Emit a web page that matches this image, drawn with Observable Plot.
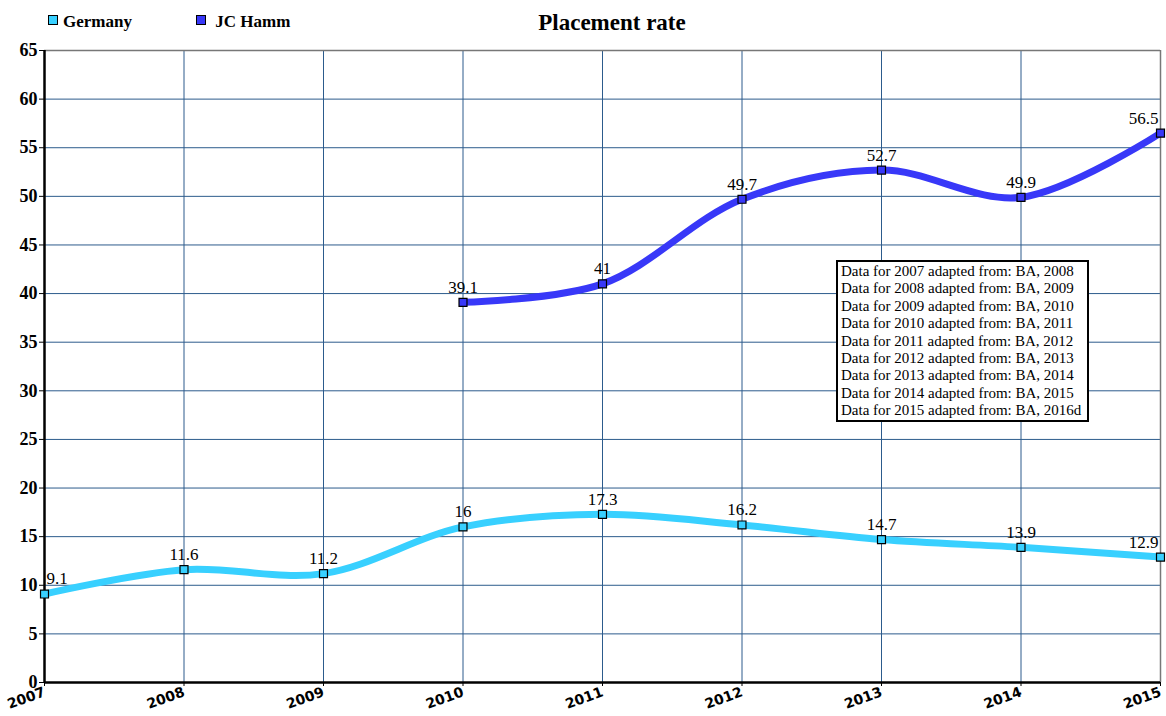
<!DOCTYPE html>
<html>
<head>
<meta charset="utf-8">
<script src="https://cdn.jsdelivr.net/npm/d3@7"></script>
<script src="https://cdn.jsdelivr.net/npm/@observablehq/plot@0.6"></script>
<style>
  html, body { margin: 0; padding: 0; background: #fff; }
  #wrap { position: relative; width: 1166px; height: 716px; }
  #title { position: absolute; left: 0; width: 1224px; top: 10px; text-align: center;
    font: bold 23px "Liberation Serif", serif; color: #000; }
  .leg { position: absolute; top: 12px; font: bold 17px "Liberation Serif", serif; color: #000; }
  .sw { display: inline-block; width: 8px; height: 8px; border: 1px solid #000; margin-right: 5px; vertical-align: 2px; }
  #note { position: absolute; left: 836px; top: 260px; width: 253px; height: 162px; border: 2px solid #000;
    background: #fff; font: 15px "Liberation Serif", serif; line-height: 17.4px; padding: 1px 0 1px 3px; box-sizing: border-box; color: #000; white-space: nowrap; overflow: hidden; }
</style>
</head>
<body>
<div id="wrap">
  <div id="title">Placement rate</div>
  <div class="leg" style="left:48px"><span class="sw" style="background:#38d0ff"></span>Germany</div>
  <div class="leg" style="left:196px"><span class="sw" style="background:#3838f8"></span> JC Hamm</div>
  <div id="chart"></div>
  <div id="note"></div>
</div>
<script>
const years = [2007, 2008, 2009, 2010, 2011, 2012, 2013, 2014, 2015];
const germany = [9.1, 11.6, 11.2, 16, 17.3, 16.2, 14.7, 13.9, 12.9];
const hammYears = [2010, 2011, 2012, 2013, 2014, 2015];
const hamm = [39.1, 41, 49.7, 52.7, 49.9, 56.5];
const yTicks = [0, 5, 10, 15, 20, 25, 30, 35, 40, 45, 50, 55, 60, 65];
const sources = ["BA, 2008", "BA, 2009", "BA, 2010", "BA, 2011", "BA, 2012", "BA, 2013", "BA, 2014", "BA, 2015", "BA, 2016d"];

const serif = "Liberation Serif";
const colG = "#38d0ff", colH = "#3838f8";
const dataG = years.map((y, i) => ({year: y, value: germany[i]}));
const dataH = hammYears.map((y, i) => ({year: y, value: hamm[i]}));
const allPts = dataG.concat(dataH);
const minY = d3.min(years), maxY = d3.max(years);
const lbl = (filter, anchor, dx) => Plot.text(allPts.filter(filter), {
  x: "year", y: "value", text: d => String(d.value), dy: -15, dx, textAnchor: anchor,
  fontSize: 17, fontFamily: serif, fill: "#000"
});

const chart = Plot.plot({
  width: 1166,
  height: 716,
  marginLeft: 44,
  marginRight: 6,
  marginTop: 50,
  marginBottom: 34,
  x: {domain: [minY, maxY], ticks: years, tickFormat: d => String(d), label: null},
  y: {domain: [0, 65], ticks: yTicks, label: null},
  style: {fontFamily: serif, background: "#fff"},
  marks: [
    Plot.ruleX(years, {stroke: "#2c5b8c", strokeWidth: 1}),
    Plot.ruleY(yTicks, {stroke: "#2c5b8c", strokeWidth: 1}),
    Plot.ruleY([65], {stroke: "#777", strokeWidth: 1.5}),
    Plot.ruleX([maxY], {stroke: "#777", strokeWidth: 1.5}),
    Plot.ruleX([minY], {stroke: "#000", strokeWidth: 2.5}),
    Plot.ruleY([0], {stroke: "#000", strokeWidth: 2.5}),
    Plot.axisY({ticks: yTicks, tickSize: 5, tickPadding: 2, fontSize: 18, fontWeight: "bold", fontFamily: serif, label: null}),
    Plot.axisX({ticks: years, tickSize: 4, tickRotate: -20, tickPadding: 5, fontSize: 14, fontWeight: "bold",
      fontFamily: "DejaVu Sans", tickFormat: d => String(d), label: null}),
    Plot.line(dataG, {x: "year", y: "value", stroke: colG, strokeWidth: 7, curve: "catmull-rom"}),
    Plot.line(dataH, {x: "year", y: "value", stroke: colH, strokeWidth: 7, curve: "catmull-rom"}),
    Plot.dot(dataG, {x: "year", y: "value", symbol: "square", r: 4.5, fill: colG, stroke: "#000", strokeWidth: 1.2}),
    Plot.dot(dataH, {x: "year", y: "value", symbol: "square", r: 4.5, fill: colH, stroke: "#000", strokeWidth: 1.2}),
    lbl(d => d.year > minY && d.year < maxY, "middle", 0),
    lbl(d => d.year === minY, "start", 2),
    lbl(d => d.year === maxY, "end", -2)
  ]
});
document.getElementById("chart").appendChild(chart);
document.getElementById("note").innerHTML = years.map((y, i) => `Data for ${y} adapted from: ${sources[i]}`).join("<br>");
</script>
</body>
</html>
